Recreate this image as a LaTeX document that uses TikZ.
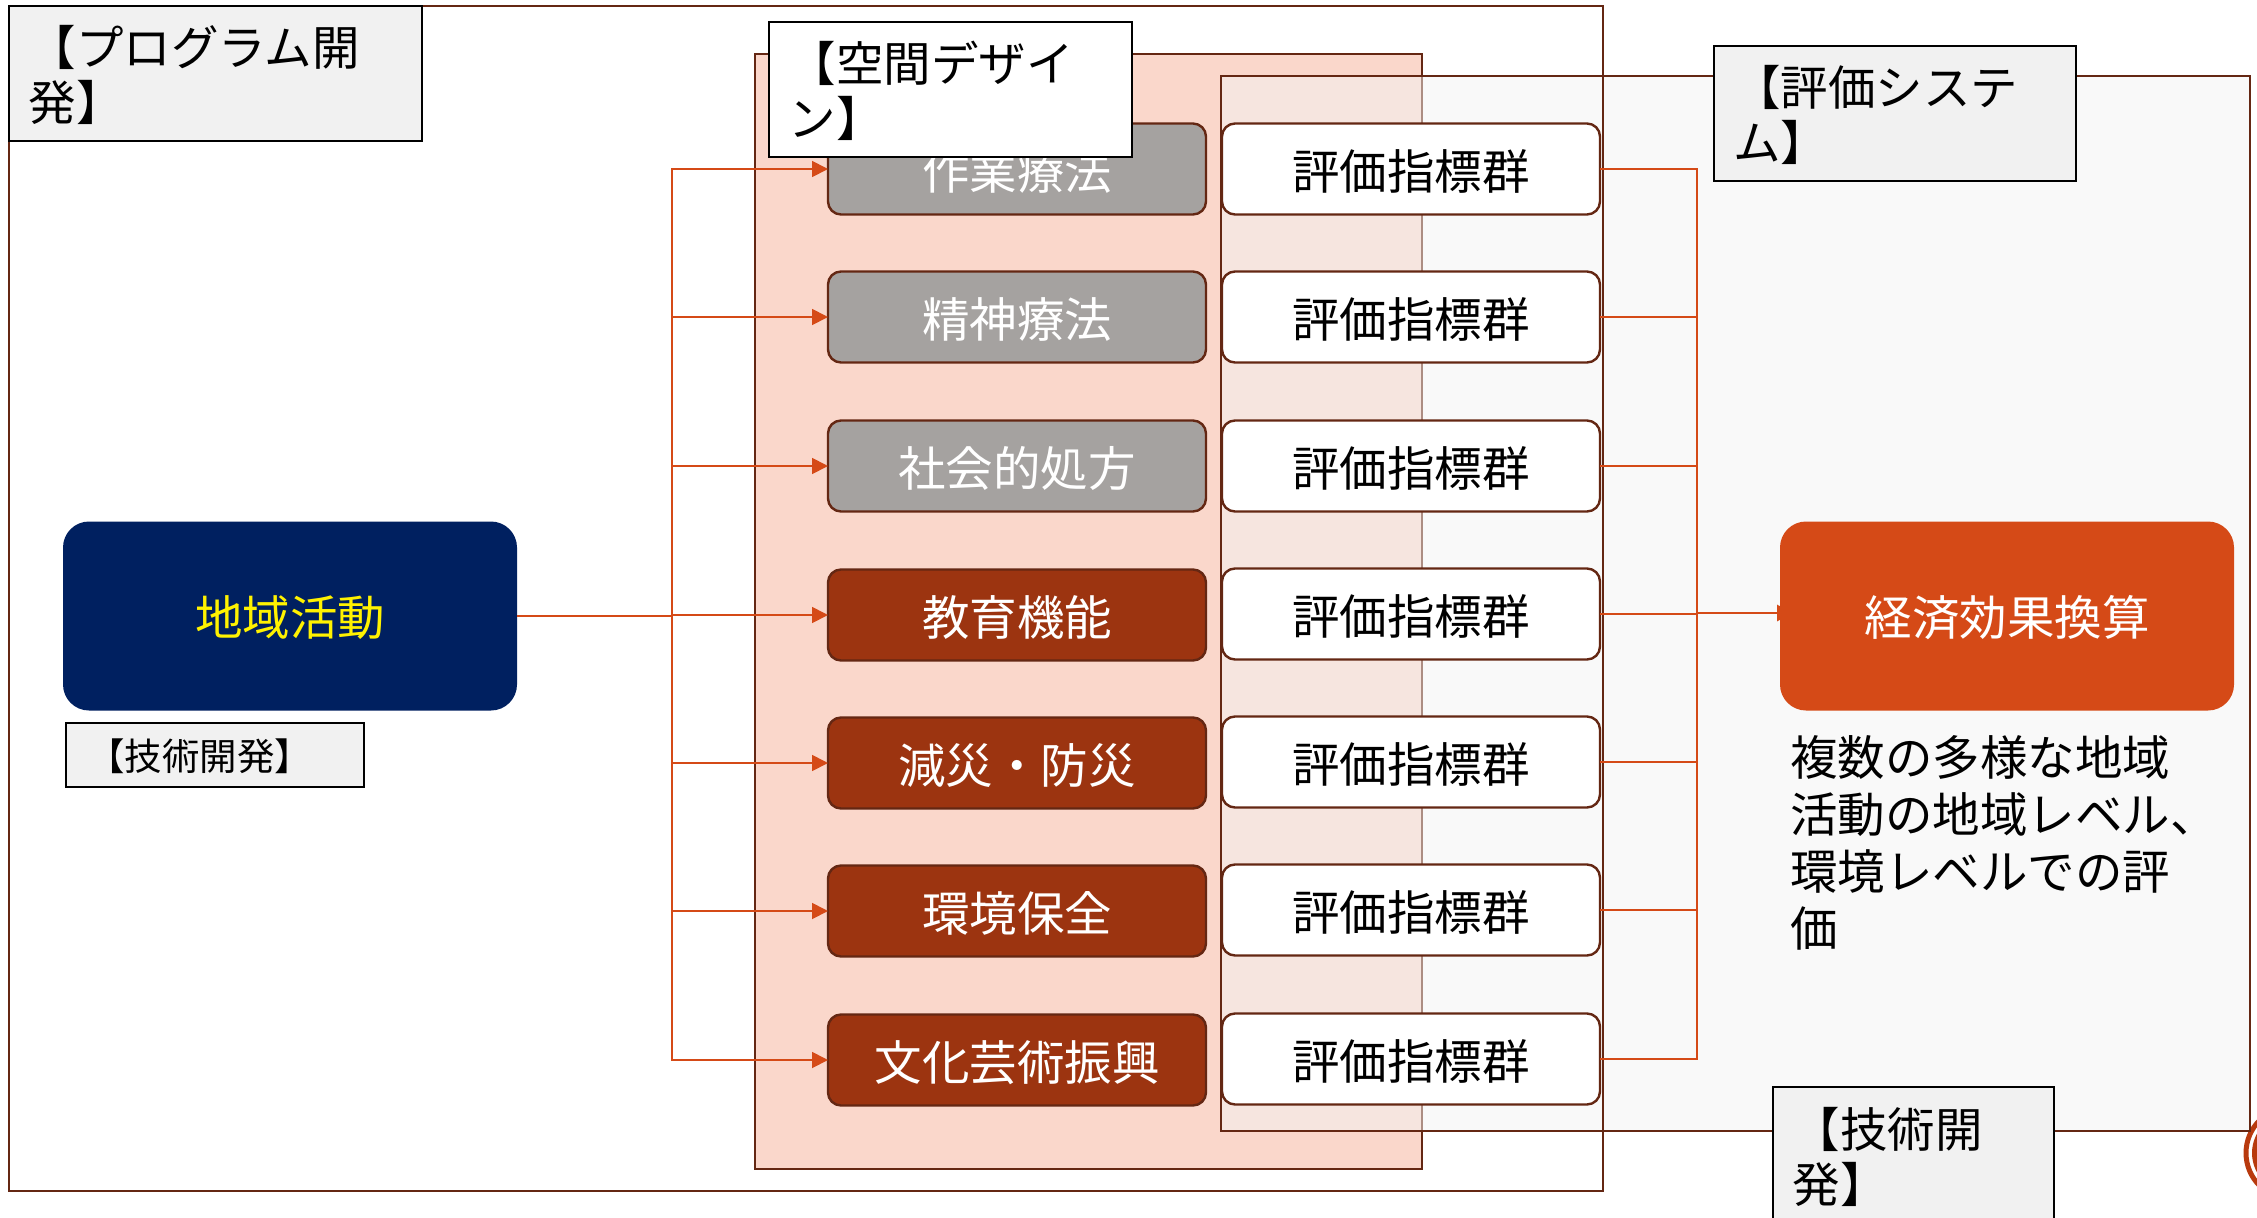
\documentclass[tikz,border=0pt]{standalone}
\usepackage{fontspec}
\setmainfont{Noto Sans CJK JP}
\usetikzlibrary{arrows.meta}
\definecolor{frameline}{HTML}{642713}
\definecolor{arrowc}{HTML}{D54A17}
\definecolor{darkred}{HTML}{9C3410}
\definecolor{ringred}{HTML}{B83A0E}
\definecolor{greyb}{HTML}{A5A2A0}
\definecolor{pinkf}{HTML}{FAD7CB}
\definecolor{labelf}{HTML}{F1F1F1}
\definecolor{evalf}{HTML}{F4F4F4}
\definecolor{navy}{HTML}{002060}
\definecolor{econ}{HTML}{D54A17}
\newcommand{\tagtext}[4]{\parbox[c][#1][c]{#2}{\vspace*{#3}\raggedright #4}}
\tikzset{
  x=1pt,y=-1pt,
  every node/.style={inner sep=0pt,outer sep=0pt},
  frame/.style={draw=frameline,line width=2.4pt},
  rowbox/.style={draw=frameline,line width=2.4pt,rounded corners=13pt,minimum width=378pt,minimum height=91pt,font=\fontsize{47.5}{47.5}\selectfont,text height=40pt,text depth=0pt,anchor=center},
  greybox/.style={rowbox,fill=greyb,text=white},
  redbox/.style={rowbox,fill=darkred,text=white},
  evalbox/.style={rowbox,fill=white,text=black},
  bigbox/.style={rounded corners=26pt,minimum width=454pt,minimum height=189pt,font=\fontsize{47.5}{47.5}\selectfont,text height=39pt,text depth=0pt},
  tag/.style={draw=black,line width=1.8pt,font=\fontsize{47.5}{55}\selectfont,text=black,anchor=north west},
  conn/.style={draw=arrowc,line width=1.8pt},
  arr/.style={conn,-{Triangle[length=16pt,width=16pt]}},
}
\begin{document}
\begin{tikzpicture}
\clip (0,0) rectangle (2257,1218);
\useasboundingbox (0,0) rectangle (2257,1218);
\fill[white] (0,0) rectangle (2257,1218);
% decoration at the right edge
\draw[draw=ringred,line width=5pt] (2292,1153) circle (46);
\fill[ringred] (2292,1153) circle (40);
% large frames
\draw[frame,fill=pinkf] (755,54) rectangle (1422,1169);
\draw[frame,fill=evalf,fill opacity=0.5] (1221,76) rectangle (2250,1131);
\draw[frame] (9,6) rectangle (1603,1191);
% left
\node[bigbox,fill=navy,text=yellow] (src) at (290,616) {地域活動};
% rows
\node[greybox] (a1) at (1017,169) {作業療法};
\node[greybox] (a2) at (1017,317) {精神療法};
\node[greybox] (a3) at (1017,466) {社会的処方};
\node[redbox] (a4) at (1017,615) {教育機能};
\node[redbox] (a5) at (1017,763) {減災・防災};
\node[redbox] (a6) at (1017,911) {環境保全};
\node[redbox] (a7) at (1017,1060) {文化芸術振興};
\node[evalbox] (b1) at (1411,169) {評価指標群};
\node[evalbox] (b2) at (1411,317) {評価指標群};
\node[evalbox] (b3) at (1411,466) {評価指標群};
\node[evalbox] (b4) at (1411,614) {評価指標群};
\node[evalbox] (b5) at (1411,762) {評価指標群};
\node[evalbox] (b6) at (1411,910) {評価指標群};
\node[evalbox] (b7) at (1411,1059) {評価指標群};
% connectors
\coordinate (busL) at (672,616);
\coordinate (busR) at (1697,613);
\coordinate (econin) at (1793,613);
\draw[conn,line width=2.8pt] (src.east) -- (busL);
\foreach \n in {a1,a2,a3,a4,a5,a6,a7}{
  \draw[arr] (busL) |- (\n.west);
}
\foreach \n in {b1,b2,b3,b4,b5,b6,b7}{
  \draw[conn] (\n.east) -| (busR);
}
\draw[arr,line width=2.8pt] (busR) -- (econin);
\node[bigbox,fill=econ,text=white] (econ) at (2007,616) {経済効果換算};
% tags
\node[tag,fill=labelf,minimum width=413pt,minimum height=135pt] (t1) at (9,6) {\tagtext{135pt}{374pt}{3pt}{【プログラム開\\発】}};
\node[tag,fill=white,minimum width=363pt,minimum height=135pt] (t2) at (769,22) {\tagtext{135pt}{324pt}{3pt}{【空間デザイ\\ン】}};
\node[tag,fill=labelf,minimum width=362pt,minimum height=135pt] (t3) at (1714,46) {\tagtext{135pt}{324pt}{3pt}{【評価システ\\ム】}};
\node[tag,fill=labelf,minimum width=281pt,minimum height=140pt] (t4) at (1773,1087) {\tagtext{140pt}{242pt}{0pt}{【技術開\\発】}};
\node[tag,fill=labelf,minimum width=298pt,minimum height=64pt,font=\fontsize{37.5}{44}\selectfont] (t5) at (66,723) {\tagtext{64pt}{256pt}{3pt}{【技術開発】}};
% note
\node[anchor=north west,align=left,font=\fontsize{47.5}{57}\selectfont,text=black] (note) at (1790,735) {複数の多様な地域\\活動の地域レベル、\\環境レベルでの評\\価};
\end{tikzpicture}
\end{document}
